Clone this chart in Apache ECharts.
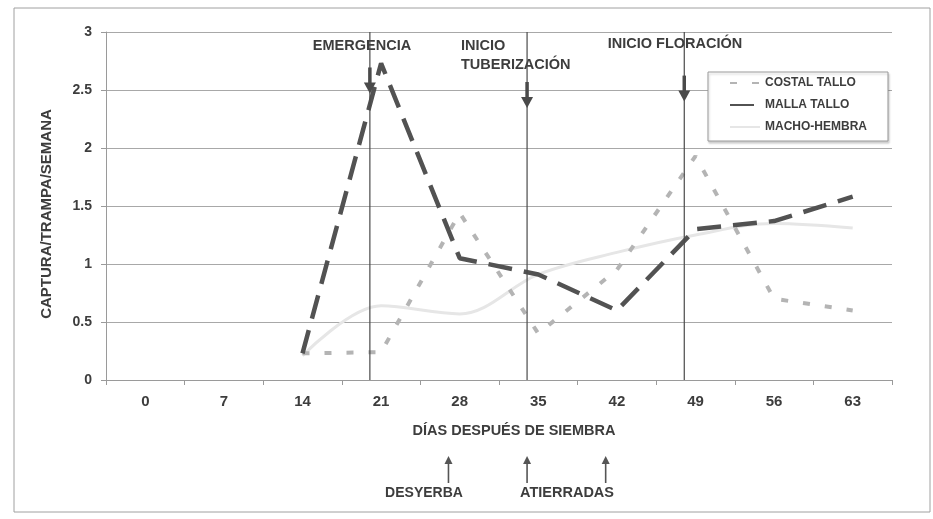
<!DOCTYPE html>
<html>
<head>
<meta charset="utf-8">
<script src="https://cdn.jsdelivr.net/npm/echarts@6/dist/echarts.min.js"></script>
<style>
  html, body { margin: 0; padding: 0; background: #fff; }
  #chart { width: 933px; height: 519px; }
</style>
</head>
<body>
<div id="chart"></div>
<script>
// Días después de siembra (eje de categorías)
const days = ['0', '7', '14', '21', '28', '35', '42', '49', '56', '63'];

// Captura por trampa por semana
const costalTallo = [null, null, 0.23, 0.24, 1.44, 0.40, 0.95, 1.93, 0.70, 0.60];
const mallaTallo  = [null, null, 0.23, 2.73, 1.05, 0.91, 0.60, 1.30, 1.37, 1.58];
const machoHembra = [null, null, 0.21, 0.64, 0.57, 0.91, 1.10, 1.25, 1.35, 1.31];

// Etapas fenológicas (día) y labores de cultivo (día)
const stageDays = [20, 34, 48];
const stageNames = ['EMERGENCIA', 'INICIO\nTUBERIZACIÓN', 'INICIO FLORACIÓN'];
const taskDays = [27, 34, 41];
const taskNames = ['DESYERBA', 'ATIERRADAS'];

const yTicks = { min: 0, max: 3, interval: 0.5 };

// Altura (en unidades del eje Y) de la punta de cada flecha de etapa
const stageArrowTip = [2.47, 2.345, 2.40];

const TEXT = '#3d3d3d';
const BOLD = "'Liberation Sans', Arial, sans-serif";

const chart = echarts.init(document.getElementById('chart'), null, { renderer: 'canvas' });

const option = {
  backgroundColor: '#ffffff',
  animation: false,
  grid: { left: 106, right: 41, top: 32, bottom: 139, containLabel: false },
  legend: {
    orient: 'vertical',
    left: 708, top: 72,
    padding: [5, 21, 8, 21],
    itemWidth: 30, itemHeight: 14, itemGap: 10,
    backgroundColor: '#ffffff',
    borderColor: '#9a9a9a', borderWidth: 1,
    shadowColor: 'rgba(0,0,0,0.18)', shadowBlur: 2, shadowOffsetX: 1, shadowOffsetY: 2,
    itemStyle: { opacity: 0 },
    textStyle: { fontFamily: BOLD, fontWeight: 'bold', fontSize: 12, color: TEXT },
    data: ['COSTAL TALLO', 'MALLA TALLO', 'MACHO-HEMBRA']
  },
  xAxis: [
    {
      type: 'category',
      data: days,
      boundaryGap: true,
      axisLine: { onZero: false, lineStyle: { color: '#9a9a9a', width: 1 } },
      axisTick: { show: true, inside: false, length: 5, lineStyle: { color: '#9a9a9a' } },
      axisLabel: { margin: 14, fontFamily: BOLD, fontWeight: 'bold', fontSize: 15, color: TEXT },
      splitLine: { show: false }
    },
    {
      type: 'value', min: -3.5, max: 66.5, show: false,
      splitLine: { show: false }, axisLine: { show: false, onZero: false },
      axisTick: { show: false }, axisLabel: { show: false }
    }
  ],
  yAxis: {
    type: 'value',
    min: yTicks.min, max: yTicks.max, interval: yTicks.interval,
    axisLine: { show: true, onZero: false, lineStyle: { color: '#9a9a9a', width: 1 } },
    axisTick: { show: true, length: 5, lineStyle: { color: '#9a9a9a' } },
    axisLabel: { margin: 14, fontFamily: BOLD, fontWeight: 'bold', fontSize: 14, color: TEXT },
    splitLine: { show: true, lineStyle: { color: '#a8a8a8', width: 1 } }
  },
  series: [
    {
      name: 'COSTAL TALLO', type: 'line', data: costalTallo,
      symbol: 'none', connectNulls: false, z: 3,
      itemStyle: { color: '#b4b4b4' },
      lineStyle: { color: '#b4b4b4', width: 4, type: [7, 15], cap: 'butt' }
    },
    {
      name: 'MALLA TALLO', type: 'line', data: mallaTallo,
      symbol: 'none', z: 4,
      itemStyle: { color: '#525252' },
      lineStyle: { color: '#525252', width: 4.5, type: [24, 12], cap: 'butt' }
    },
    {
      name: 'MACHO-HEMBRA', type: 'line', data: machoHembra,
      symbol: 'none', smooth: 0.35, z: 2,
      itemStyle: { color: '#e6e6e6' },
      lineStyle: { color: '#e6e6e6', width: 3 }
    },
    {
      // Líneas verticales de etapas con flecha hacia abajo
      name: 'etapas', type: 'custom', xAxisIndex: 1, yAxisIndex: 0,
      silent: true, clip: false, z: 6,
      data: stageDays.map(d => [d, 0]),
      renderItem: function (params, api) {
        const d = api.value(0);
        const top = api.coord([d, yTicks.max]);
        const bot = api.coord([d, yTicks.min]);
        const x = top[0];
        const tip = api.coord([d, stageArrowTip[params.dataIndex]])[1];
        return {
          type: 'group',
          children: [
            { type: 'line', shape: { x1: x, y1: top[1], x2: x, y2: bot[1] },
              style: { stroke: '#4a4a4a', lineWidth: 1.2 } },
            { type: 'line', shape: { x1: x, y1: tip - 26, x2: x, y2: tip - 9 },
              style: { stroke: '#4a4a4a', lineWidth: 3.5 } },
            { type: 'polygon', shape: { points: [[x - 6, tip - 11], [x + 6, tip - 11], [x, tip]] },
              style: { fill: '#4a4a4a' } }
          ]
        };
      }
    },
    {
      // Flechas de labores bajo el eje
      name: 'labores', type: 'custom', xAxisIndex: 1, yAxisIndex: 0,
      silent: true, clip: false, z: 6,
      data: taskDays.map(d => [d, 0]),
      renderItem: function (params, api) {
        const d = api.value(0);
        const base = api.coord([d, yTicks.min]);
        const x = base[0];
        const tip = base[1] + 76;
        const tail = base[1] + 103;
        return {
          type: 'group',
          children: [
            { type: 'line', shape: { x1: x, y1: tip + 6, x2: x, y2: tail },
              style: { stroke: '#555', lineWidth: 1.6 } },
            { type: 'polygon', shape: { points: [[x - 4, tip + 8], [x + 4, tip + 8], [x, tip]] },
              style: { fill: '#555' } }
          ]
        };
      }
    }
  ],
  graphic: [
    { type: 'rect', shape: { x: 14, y: 8, width: 916, height: 504 },
      style: { fill: 'none', stroke: '#a0a0a0', lineWidth: 1 }, silent: true, z: -1 },
    { type: 'text', x: 47, y: 214, rotation: Math.PI / 2, silent: true,
      style: { text: 'CAPTURA/TRAMPA/SEMANA', fontFamily: BOLD, fontWeight: 'bold', fontSize: 15,
               fill: TEXT, align: 'center', verticalAlign: 'middle' } },
    { type: 'text', x: 514, y: 431, silent: true,
      style: { text: 'DÍAS DESPUÉS DE SIEMBRA', fontFamily: BOLD, fontWeight: 'bold', fontSize: 14.5,
               fill: TEXT, align: 'center', verticalAlign: 'middle' } },
    { type: 'text', x: 362, y: 46, silent: true,
      style: { text: stageNames[0], fontFamily: BOLD, fontWeight: 'bold', fontSize: 14.5,
               fill: TEXT, align: 'center', verticalAlign: 'middle' } },
    { type: 'text', x: 461, y: 36, silent: true,
      style: { text: stageNames[1], fontFamily: BOLD, fontWeight: 'bold', fontSize: 14.5, lineHeight: 19,
               fill: TEXT, align: 'left', verticalAlign: 'top' } },
    { type: 'text', x: 675, y: 44, silent: true,
      style: { text: stageNames[2], fontFamily: BOLD, fontWeight: 'bold', fontSize: 14.5,
               fill: TEXT, align: 'center', verticalAlign: 'middle' } },
    { type: 'text', x: 424, y: 493, silent: true,
      style: { text: taskNames[0], fontFamily: BOLD, fontWeight: 'bold', fontSize: 14,
               fill: TEXT, align: 'center', verticalAlign: 'middle' } },
    { type: 'text', x: 567, y: 493, silent: true,
      style: { text: taskNames[1], fontFamily: BOLD, fontWeight: 'bold', fontSize: 14.5,
               fill: TEXT, align: 'center', verticalAlign: 'middle' } }
  ]
};

chart.setOption(option);
</script>
</body>
</html>
